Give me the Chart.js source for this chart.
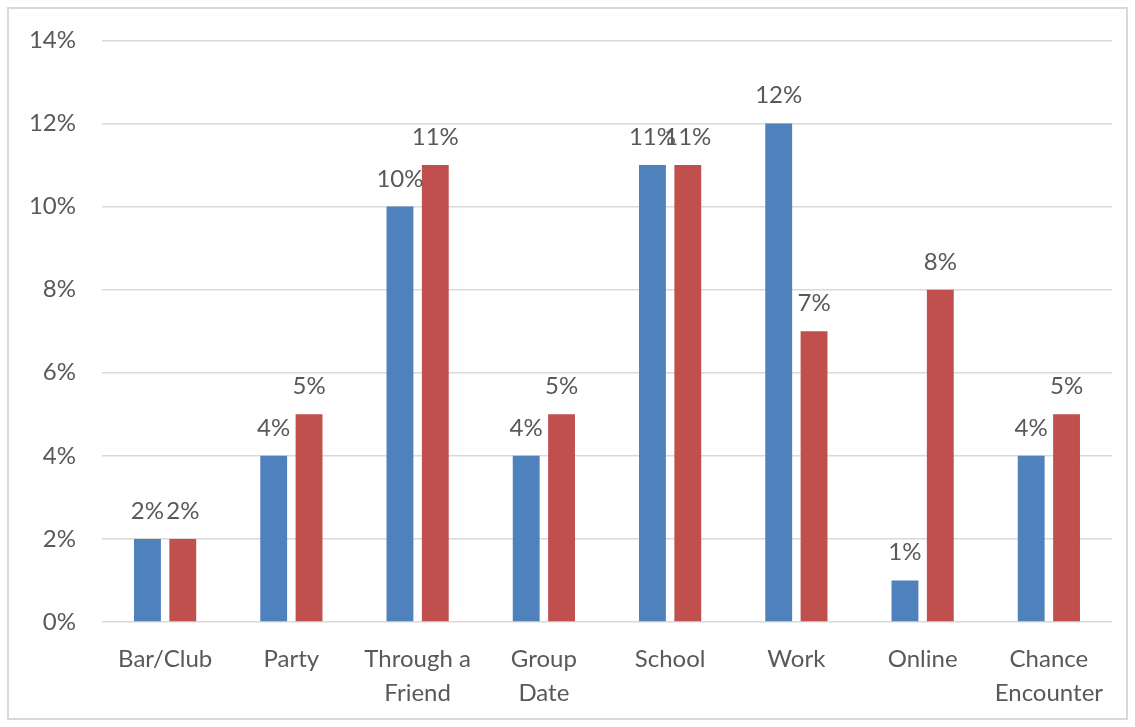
<!DOCTYPE html>
<html lang="en">
<head>
    <meta charset="UTF-8">
    <title>How couples met</title>
    <script src="https://cdn.jsdelivr.net/npm/chart.js"></script>
    <style>
        body { margin: 0; background: #fff; }
        .wrap { position: relative; width: 1135px; height: 727px; }
        .frame {
            position: absolute; left: 7px; top: 7px; width: 1121px; height: 713px;
            border: 2px solid #d9d9d9; box-sizing: border-box; pointer-events: none;
        }
    </style>
</head>
<body>
    <div class="wrap">
        <canvas id="chart" width="1135" height="727"></canvas>
        <div class="frame"></div>
    </div>

    <script>
        // data
        const categories = [['Bar/Club'], ['Party'], ['Through a', 'Friend'], ['Group', 'Date'],
            ['School'], ['Work'], ['Online'], ['Chance', 'Encounter']];
        const blueValues = [2, 4, 10, 4, 11, 12, 1, 4];
        const redValues = [2, 5, 11, 5, 11, 7, 8, 5];
        const yTicks = [0, 2, 4, 6, 8, 10, 12, 14];

        const textColor = '#595959';

        // value labels above each bar
        const barLabels = {
            id: 'barLabels',
            afterDatasetsDraw(chart) {
                const ctx = chart.ctx;
                ctx.save();
                ctx.font = '24px Lato';
                ctx.fillStyle = textColor;
                ctx.textAlign = 'center';
                ctx.textBaseline = 'alphabetic';
                chart.data.datasets.forEach((ds, i) => {
                    chart.getDatasetMeta(i).data.forEach((bar, j) => {
                        ctx.fillText(ds.data[j] + '%', bar.x, bar.y - 20);
                    });
                });
                ctx.restore();
            }
        };

        const ctx = document.getElementById('chart').getContext('2d');
        const chart = new Chart(ctx, {
            type: 'bar',
            data: {
                labels: categories,
                datasets: [{
                    data: blueValues,
                    backgroundColor: '#4F81BD'
                }, {
                    data: redValues,
                    backgroundColor: '#C0504D'
                }]
            },
            options: {
                responsive: false,
                animation: false,
                categoryPercentage: 0.56,
                barPercentage: 0.76,
                layout: { padding: { top: 33, right: 23, left: 0, bottom: 0 } },
                plugins: {
                    legend: { display: false },
                    tooltip: { enabled: false }
                },
                scales: {
                    x: {
                        grid: { display: false },
                        border: { display: false },
                        ticks: {
                            color: textColor,
                            font: { family: 'Lato', size: 24, lineHeight: 1.42 },
                            padding: 12,
                            maxRotation: 0,
                            autoSkip: false
                        },
                        afterFit(scale) { scale.height = 105; }
                    },
                    y: {
                        min: 0,
                        max: 14,
                        afterBuildTicks(scale) { scale.ticks = yTicks.map(v => ({ value: v })); },
                        grid: { color: '#d9d9d9', lineWidth: 1.5, drawTicks: false },
                        border: { display: false },
                        ticks: {
                            color: textColor,
                            font: { family: 'Lato', size: 24 },
                            padding: 26,
                            callback: v => v + '%'
                        },
                        afterFit(scale) { scale.width = 102; }
                    }
                }
            },
            plugins: [barLabels]
        });
    </script>
</body>
</html>
